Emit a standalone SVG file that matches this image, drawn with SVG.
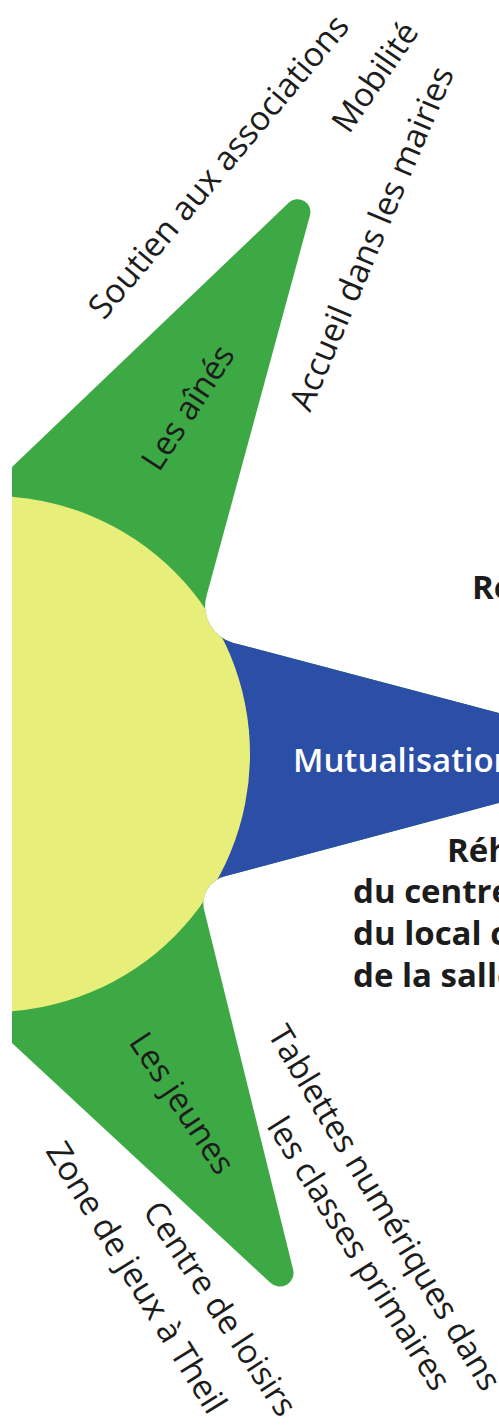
<svg xmlns="http://www.w3.org/2000/svg" width="499" height="1425" viewBox="0 0 499 1425">
<style>
.t{font-family:"Open Sans","DejaVu Sans",sans-serif;font-size:33px;fill:#1c1c1c}
.b{font-weight:700}
.w{fill:#ffffff;font-weight:600}
</style>
<defs>
<clipPath id="star">
<path d="M 12,467 L 288.9,202.6 A 12.8 12.8 0 0 1 310,215.2 L 206.5,596 A 38 38 0 0 0 232.7,642.7 L 520,718.6 L 520,797.4 L 225.7,876 A 28 28 0 0 0 204.6,911.7 L 293.1,1269.5 A 13.7 13.7 0 0 1 270.4,1282.8 L 12,1043 Z"/>
</clipPath>
</defs>
<rect width="499" height="1425" fill="#ffffff"/>
<g clip-path="url(#star)">
<g id="arm-aines"><rect x="0" y="0" width="520" height="754" fill="#3ca945"/></g>
<g id="arm-jeunes"><rect x="0" y="754" width="520" height="671" fill="#3ca945"/></g>
<g id="arm-mutualisation"><polygon points="120,609 520,718.6 520,797.4 120,906" fill="#2b4ea6"/></g>
<g id="centre"><circle cx="-8" cy="754" r="258" fill="#e8ee7a"/></g>
</g>
<g id="labels-aines">
<text class="t" transform="translate(159,473) rotate(-57)">Les aînés</text>
<text class="t" transform="translate(104,321) rotate(-50)" style="font-size:33.5px">Soutien aux associations</text>
<text class="t" transform="translate(349,135) rotate(-55.5)">Mobilité</text>
<text class="t" transform="translate(310,413) rotate(-67)" style="font-size:33.5px">Accueil dans les mairies</text>
</g>
<g id="labels-mutualisation">
<text class="t w" x="293" y="772">Mutualisation</text>
<text class="t b" x="472" y="599">Re</text>
<text class="t b" x="447" y="862">Réh</text>
<text class="t b" x="353" y="903">du centre</text>
<text class="t b" x="353" y="945">du local c</text>
<text class="t b" x="353" y="987">de la salle</text>
</g>
<g id="labels-jeunes">
<text class="t" transform="translate(128,1042) rotate(56.5)">Les jeunes</text>
<text class="t" transform="translate(267,1034) rotate(59)">Tablettes numériques dans</text>
<text class="t" transform="translate(266,1126) rotate(58)">les classes primaires</text>
<text class="t" transform="translate(142,1211) rotate(56.6)">Centre de loisirs</text>
<text class="t" transform="translate(45,1151) rotate(58.4)" style="font-size:33.5px">Zone de jeux à Theil</text>
</g>
</svg>
